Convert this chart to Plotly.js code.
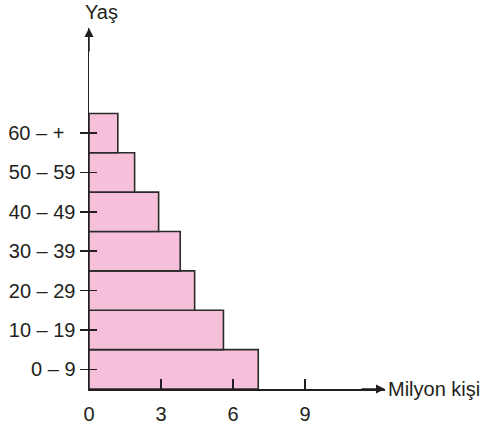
<!DOCTYPE html>
<html>
<head>
<meta charset="utf-8">
<script src="https://cdn.plot.ly/plotly-3.0.1.min.js"></script>
<style>html,body{margin:0;padding:0;background:#fff;}#chart{width:488px;height:428px;}</style>
</head>
<body>
<div id="chart"></div>
<script>
// Data
const ageGroups = ["0 – 9", "10 – 19", "20 – 29", "30 – 39", "40 – 49", "50 – 59", "60 – +"];
const population = [7.05, 5.6, 4.4, 3.8, 2.9, 1.9, 1.2]; // milyon kişi
const xTicks = [0, 3, 6, 9];
const xTitle = "Milyon kişi";
const yTitle = "Yaş";

const ink = "#231f20";
const font = {family: "Liberation Sans, Arial, sans-serif", size: 20, color: ink};
const yTickText = ageGroups.map(g => g === "60 – +" ? g + "\u00a0\u00a0" : g);

const traces = [
  {
    type: "bar", orientation: "h",
    x: population, y: ageGroups,
    marker: {color: "#f6c0da", line: {color: "#2a2a2a", width: 1.6}},
    hoverinfo: "skip"
  },
  {
    type: "scatter", mode: "markers",
    x: population, y: ageGroups, yaxis: "y2",
    marker: {opacity: 0}, hoverinfo: "skip", showlegend: false
  }
];

const yRange = [-0.5, 8.67];
const layout = {
  width: 488, height: 428,
  margin: {l: 89, r: 103, t: 28, b: 39},
  paper_bgcolor: "#fff", plot_bgcolor: "#fff",
  showlegend: false,
  bargap: 0,
  font: font,
  xaxis: {
    range: [0, 12.33], tickvals: xTicks, ticktext: xTicks.map(String),
    ticks: "inside", ticklen: 10, tickwidth: 1.5, tickcolor: ink,
    ticklabelstandoff: 6,
    showline: true, linecolor: ink, linewidth: 1.5,
    showgrid: false, zeroline: false, tickfont: font, fixedrange: true
  },
  yaxis: {
    type: "category", categoryarray: ageGroups, range: yRange,
    tickvals: ageGroups, ticktext: yTickText,
    ticks: "outside", ticklen: 8, tickwidth: 1.5, tickcolor: ink,
    showline: true, linecolor: ink, linewidth: 1.5,
    showgrid: false, zeroline: false, tickfont: font, fixedrange: true
  },
  yaxis2: {
    type: "category", categoryarray: ageGroups, range: yRange,
    overlaying: "y", side: "left",
    tickvals: ageGroups, showticklabels: false,
    ticks: "inside", ticklen: 8, tickwidth: 1.5, tickcolor: ink,
    showline: false, showgrid: false, zeroline: false, fixedrange: true
  },
  annotations: [
    {xref: "paper", yref: "paper", x: 0, y: 1, ax: 0, ay: 25, axref: "pixel", ayref: "pixel",
     showarrow: true, arrowhead: 2, arrowsize: 1.2, arrowwidth: 1.5, arrowcolor: ink, text: ""},
    {xref: "paper", yref: "paper", x: 1, y: 0, ax: -25, ay: 0,
     showarrow: true, arrowhead: 2, arrowsize: 1.2, arrowwidth: 1.5, arrowcolor: ink, text: ""},
    {xref: "paper", yref: "paper", x: 0, y: 1, xanchor: "left", yanchor: "bottom",
     xshift: -5, yshift: 4, borderpad: 0, showarrow: false, text: yTitle, font: font},
    {xref: "paper", yref: "paper", x: 1, y: 0, xanchor: "left", yanchor: "middle",
     xshift: 1, showarrow: false, text: xTitle, font: font}
  ]
};

Plotly.newPlot("chart", traces, layout, {staticPlot: true, displayModeBar: false});
</script>
</body>
</html>
